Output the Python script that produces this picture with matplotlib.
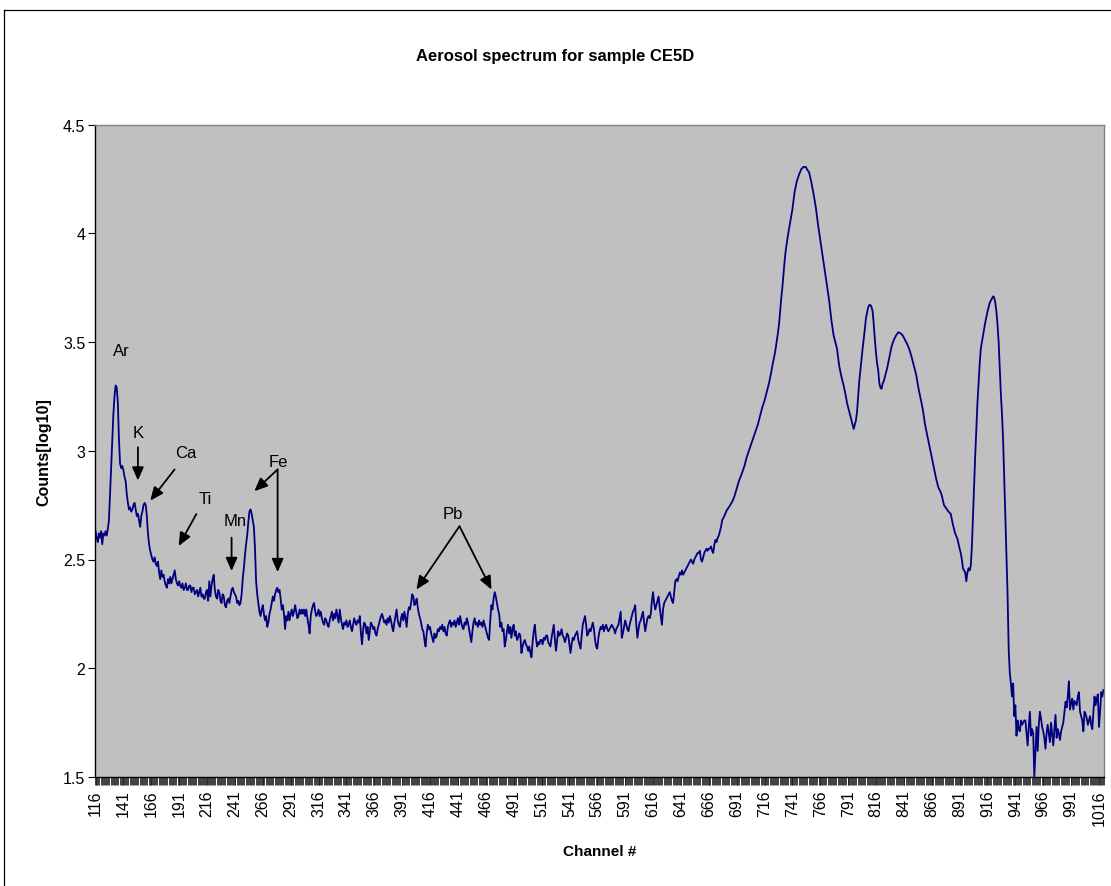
import numpy as np
import matplotlib
matplotlib.use("Agg")
import matplotlib.pyplot as plt
from matplotlib.lines import Line2D
from matplotlib.ticker import FixedLocator, NullFormatter

plt.rcParams['font.family'] = ['Liberation Sans', 'DejaVu Sans']

# ---------------- data ----------------
# channels 116..675, one value per channel (log10 counts)
low_counts = [
    2.63, 2.60, 2.58, 2.62, 2.60, 2.63, 2.57, 2.62, 2.61, 2.63,  # 116
    2.61, 2.64, 2.68, 2.80, 2.93, 3.05, 3.17, 3.25, 3.30, 3.29,  # 126
    3.22, 3.05, 2.94, 2.92, 2.93, 2.91, 2.88, 2.86, 2.80, 2.76,  # 136
    2.73, 2.74, 2.72, 2.73, 2.75, 2.76, 2.73, 2.70, 2.71, 2.68,  # 146
    2.65, 2.70, 2.72, 2.75, 2.76, 2.75, 2.70, 2.62, 2.57, 2.54,  # 156
    2.52, 2.50, 2.49, 2.51, 2.48, 2.47, 2.49, 2.44, 2.41, 2.45,  # 166
    2.42, 2.43, 2.40, 2.38, 2.37, 2.41, 2.39, 2.42, 2.39, 2.41,  # 176
    2.43, 2.45, 2.41, 2.39, 2.38, 2.40, 2.38, 2.37, 2.39, 2.36,  # 186
    2.37, 2.39, 2.36, 2.36, 2.38, 2.38, 2.35, 2.37, 2.37, 2.34,  # 196
    2.35, 2.36, 2.33, 2.35, 2.37, 2.33, 2.34, 2.32, 2.32, 2.35,  # 206
    2.36, 2.31, 2.40, 2.33, 2.38, 2.41, 2.43, 2.36, 2.33, 2.32,  # 216
    2.36, 2.35, 2.31, 2.30, 2.34, 2.33, 2.29, 2.28, 2.31, 2.32,  # 226
    2.30, 2.33, 2.36, 2.37, 2.35, 2.34, 2.33, 2.30, 2.31, 2.29,  # 236
    2.30, 2.34, 2.41, 2.46, 2.52, 2.57, 2.61, 2.67, 2.72, 2.73,  # 246
    2.71, 2.68, 2.65, 2.55, 2.40, 2.34, 2.30, 2.26, 2.24, 2.27,  # 256
    2.29, 2.25, 2.22, 2.24, 2.19, 2.21, 2.25, 2.27, 2.30, 2.33,  # 266
    2.31, 2.34, 2.36, 2.37, 2.35, 2.36, 2.32, 2.27, 2.29, 2.25,  # 276
    2.18, 2.24, 2.22, 2.26, 2.22, 2.25, 2.27, 2.24, 2.26, 2.29,  # 286
    2.26, 2.23, 2.24, 2.27, 2.25, 2.27, 2.25, 2.27, 2.24, 2.27,  # 296
    2.23, 2.20, 2.16, 2.24, 2.27, 2.29, 2.30, 2.26, 2.24, 2.25,  # 306
    2.27, 2.24, 2.26, 2.23, 2.21, 2.20, 2.23, 2.22, 2.20, 2.19,  # 316
    2.22, 2.24, 2.26, 2.22, 2.25, 2.23, 2.27, 2.24, 2.21, 2.27,  # 326
    2.23, 2.20, 2.18, 2.21, 2.20, 2.22, 2.19, 2.20, 2.22, 2.19,  # 336
    2.17, 2.20, 2.23, 2.21, 2.20, 2.22, 2.21, 2.24, 2.16, 2.11,  # 346
    2.18, 2.21, 2.20, 2.16, 2.19, 2.13, 2.17, 2.21, 2.20, 2.18,  # 356
    2.19, 2.16, 2.15, 2.18, 2.20, 2.22, 2.24, 2.25, 2.23, 2.21,  # 366
    2.22, 2.20, 2.23, 2.21, 2.24, 2.22, 2.19, 2.17, 2.21, 2.24,  # 376
    2.27, 2.22, 2.20, 2.19, 2.23, 2.25, 2.22, 2.26, 2.23, 2.19,  # 386
    2.25, 2.28, 2.27, 2.30, 2.34, 2.33, 2.29, 2.30, 2.32, 2.28,  # 396
    2.25, 2.23, 2.21, 2.18, 2.17, 2.13, 2.10, 2.16, 2.20, 2.18,  # 406
    2.19, 2.16, 2.14, 2.12, 2.16, 2.14, 2.15, 2.18, 2.17, 2.19,  # 416
    2.18, 2.20, 2.17, 2.19, 2.16, 2.15, 2.19, 2.21, 2.22, 2.19,  # 426
    2.21, 2.20, 2.22, 2.19, 2.21, 2.23, 2.20, 2.24, 2.21, 2.19,  # 436
    2.18, 2.21, 2.20, 2.23, 2.21, 2.18, 2.15, 2.12, 2.17, 2.21,  # 446
    2.23, 2.20, 2.21, 2.19, 2.22, 2.20, 2.21, 2.19, 2.22, 2.20,  # 456
    2.18, 2.16, 2.14, 2.13, 2.22, 2.29, 2.27, 2.32, 2.35, 2.33,  # 466
    2.30, 2.27, 2.25, 2.19, 2.21, 2.17, 2.18, 2.10, 2.13, 2.17,  # 476
    2.20, 2.16, 2.19, 2.14, 2.18, 2.20, 2.15, 2.17, 2.13, 2.14,  # 486
    2.16, 2.15, 2.07, 2.10, 2.12, 2.13, 2.11, 2.10, 2.08, 2.10,  # 496
    2.07, 2.05, 2.12, 2.17, 2.20, 2.14, 2.10, 2.12, 2.11, 2.13,  # 506
    2.13, 2.11, 2.14, 2.13, 2.15, 2.15, 2.12, 2.11, 2.10, 2.14,  # 516
    2.17, 2.20, 2.13, 2.08, 2.13, 2.17, 2.15, 2.16, 2.18, 2.15,  # 526
    2.14, 2.12, 2.14, 2.16, 2.15, 2.11, 2.07, 2.11, 2.14, 2.13,  # 536
    2.15, 2.16, 2.17, 2.13, 2.11, 2.09, 2.15, 2.20, 2.22, 2.24,  # 546
    2.20, 2.15, 2.16, 2.18, 2.17, 2.19, 2.21, 2.18, 2.13, 2.10,  # 556
    2.09, 2.14, 2.17, 2.19, 2.18, 2.20, 2.17, 2.19, 2.20, 2.18,  # 566
    2.17, 2.18, 2.19, 2.20, 2.19, 2.18, 2.16, 2.18, 2.19, 2.20,  # 576
    2.23, 2.26, 2.14, 2.16, 2.19, 2.22, 2.20, 2.18, 2.17, 2.20,  # 586
    2.22, 2.24, 2.26, 2.27, 2.29, 2.20, 2.14, 2.18, 2.21, 2.22,  # 596
    2.24, 2.26, 2.21, 2.17, 2.20, 2.23, 2.24, 2.23, 2.25, 2.31,  # 606
    2.35, 2.30, 2.27, 2.29, 2.31, 2.33, 2.28, 2.24, 2.20, 2.27,  # 616
    2.30, 2.31, 2.32, 2.33, 2.34, 2.35, 2.33, 2.31, 2.30, 2.35,  # 626
    2.40, 2.41, 2.40, 2.42, 2.44, 2.43, 2.45, 2.43, 2.44, 2.45,  # 636
    2.46, 2.47, 2.48, 2.49, 2.50, 2.49, 2.48, 2.50, 2.51, 2.52,  # 646
    2.53, 2.53, 2.54, 2.50, 2.49, 2.51, 2.53, 2.54, 2.55, 2.54,  # 656
    2.55, 2.55, 2.56, 2.54, 2.53, 2.57, 2.59, 2.58, 2.60, 2.61,  # 666
]
low_first_channel = 116

# smooth peak region, read at selected channels
peak_channels = [
    677, 678, 680, 682, 684, 687, 689, 691, 693, 696, 698, 700, 702, 704, 706,
    708, 710, 712, 714, 716, 718, 720, 722, 723, 725, 726, 728, 729, 731, 732,
    734, 735, 737, 738, 740, 741, 743, 745, 747, 749, 751, 753, 754, 756, 758,
    760, 762, 764, 766, 768, 770, 772, 774, 776, 778, 781, 783, 785, 787, 789,
    790, 792, 793, 795, 796, 797, 798, 799, 800, 801, 803, 804, 806, 807, 809,
    810, 811, 812, 813, 814, 815, 816, 817, 818, 819, 820, 821, 822, 823, 824,
    826, 828, 830, 832, 834, 836, 838, 840, 842, 844, 846, 848, 850, 852, 854,
    856, 858, 860, 862, 864, 866, 868, 870, 872, 874, 875, 877, 879, 881, 883,
    885, 887, 889, 891, 892, 893, 894, 895, 896, 897, 898, 899, 900, 901, 902,
    903, 904, 905, 906, 907, 908, 909, 910, 912, 914, 916, 918, 920, 921, 922,
    923, 924, 925, 926, 927, 928, 929, 930, 931, 932,
]
peak_counts = [
    2.65, 2.68, 2.70, 2.725, 2.74, 2.765, 2.79, 2.825, 2.86, 2.90, 2.93, 2.97, 3.00, 3.03, 3.06,
    3.09, 3.12, 3.16, 3.20, 3.23, 3.27, 3.31, 3.36, 3.39, 3.44, 3.47, 3.54, 3.58, 3.70, 3.75,
    3.87, 3.92, 3.99, 4.02, 4.08, 4.11, 4.19, 4.24, 4.27, 4.295, 4.305, 4.305, 4.295, 4.28, 4.235,
    4.18, 4.12, 4.04, 3.97, 3.90, 3.83, 3.76, 3.69, 3.60, 3.53, 3.47, 3.39, 3.34, 3.30, 3.25,
    3.22, 3.18, 3.16, 3.12, 3.10, 3.12, 3.14, 3.18, 3.25, 3.32, 3.42, 3.47, 3.56, 3.61, 3.66,
    3.67, 3.67, 3.66, 3.64, 3.58, 3.51, 3.45, 3.40, 3.37, 3.31, 3.29, 3.285, 3.31, 3.32, 3.34,
    3.38, 3.43, 3.48, 3.51, 3.53, 3.545, 3.54, 3.53, 3.51, 3.49, 3.465, 3.43, 3.39, 3.35, 3.29,
    3.24, 3.19, 3.12, 3.07, 3.02, 2.97, 2.92, 2.87, 2.83, 2.81, 2.795, 2.75, 2.735, 2.72, 2.71,
    2.66, 2.62, 2.595, 2.55, 2.53, 2.50, 2.46, 2.45, 2.44, 2.40, 2.44, 2.46, 2.45, 2.47, 2.56,
    2.70, 2.83, 2.98, 3.10, 3.22, 3.31, 3.40, 3.47, 3.53, 3.59, 3.64, 3.68, 3.70, 3.71, 3.705,
    3.68, 3.64, 3.58, 3.50, 3.38, 3.26, 3.17, 3.05, 2.88, 2.70,
]

# channels 933..1020, one value per channel
tail_counts = [
    2.52, 2.34, 2.09, 1.98, 1.93, 1.87, 1.93, 1.78, 1.83, 1.69,  # 933
    1.76, 1.72, 1.71, 1.76, 1.74, 1.75, 1.76, 1.76, 1.70, 1.645,  # 943
    1.73, 1.80, 1.69, 1.72, 1.70, 1.50, 1.62, 1.73, 1.62, 1.74,  # 953
    1.80, 1.77, 1.73, 1.71, 1.68, 1.63, 1.70, 1.74, 1.70, 1.66,  # 963
    1.75, 1.70, 1.645, 1.72, 1.785, 1.68, 1.72, 1.70, 1.67, 1.71,  # 973
    1.73, 1.75, 1.80, 1.846, 1.82, 1.87, 1.94, 1.81, 1.84, 1.86,  # 983
    1.81, 1.85, 1.84, 1.83, 1.87, 1.89, 1.80, 1.78, 1.76, 1.71,  # 993
    1.80, 1.79, 1.77, 1.74, 1.76, 1.78, 1.74, 1.72, 1.80, 1.87,  # 1003
    1.83, 1.86, 1.88, 1.73, 1.80, 1.89, 1.87, 1.90,              # 1013
]
tail_first_channel = 933

tick_labels = [str(c) for c in range(116, 1017, 25)]
y_ticks = [1.5, 2, 2.5, 3, 3.5, 4, 4.5]

# annotations: (label, text pos, arrow start, [arrow ends])
annotations = [
    ("Ar", (139.1, 3.46), None, []),
    ("K", (154.6, 3.082), (154.0, 3.016), [(154.0, 2.863)]),
    ("Ca", (197.1, 2.99), (186.9, 2.914), [(165.1, 2.771)]),
    ("Ti", (214.4, 2.779), (206.4, 2.709), [(190.5, 2.562)]),
    ("Mn", (241.4, 2.678), (238.0, 2.600), [(238.0, 2.447)]),
    ("Fe", (280.2, 2.950), (279.3, 2.914), [(258.4, 2.814), (279.3, 2.442)]),
    ("Pb", (436.7, 2.710), (442.4, 2.653), [(403.8, 2.362), (471.1, 2.362)]),
]

# ---------------- assemble ----------------
low_ch = np.arange(low_first_channel, low_first_channel + len(low_counts))
tail_ch = np.arange(tail_first_channel, tail_first_channel + len(tail_counts))
x = np.concatenate([low_ch, np.array(peak_channels), tail_ch])
y = np.concatenate([np.array(low_counts), np.array(peak_counts), np.array(tail_counts)])

W, H = 1111, 887
fig = plt.figure(figsize=(W / 100, H / 100), dpi=100)
fig.patch.set_facecolor('white')

L, R, T, B = 95, 1104, 125.5, 778
ax = fig.add_axes([L / W, 1 - B / H, (R - L) / W, (B - T) / H])
ax.set_facecolor('#C0C0C0')

ax.plot(x, y, color='#000080', lw=1.3, solid_joinstyle='round')

ax.set_xlim(115.5, 1020.5)
ax.set_ylim(1.5, 4.5)

ax.set_xticks(list(range(116, 1017, 25)))
ax.set_xticklabels(tick_labels, rotation=90, fontsize=11.5)
ax.xaxis.set_minor_locator(FixedLocator(np.arange(115.5, 1021, 1.0)))
ax.xaxis.set_minor_formatter(NullFormatter())
ax.tick_params(axis='x', which='major', length=6, width=0.6, pad=3, color='black')
ax.tick_params(axis='x', which='minor', length=6, width=0.6, color='#202020')

ax.set_yticks(y_ticks)
ax.set_yticklabels(['%g' % v for v in y_ticks], fontsize=11.5)
ax.tick_params(axis='y', which='major', length=5, width=0.8, pad=2)

for s in ['top', 'right']:
    ax.spines[s].set_color('#808080')
    ax.spines[s].set_linewidth(1.0)
for s in ['left', 'bottom']:
    ax.spines[s].set_color('black')
    ax.spines[s].set_linewidth(1.0)

ax.set_xlabel('Channel #', fontsize=11, fontweight='bold', labelpad=14)
ax.set_ylabel('Counts[log10]', fontsize=11.5, fontweight='bold', labelpad=8)
fig.text(0.5, 1 - 57 / H, 'Aerosol spectrum for sample CE5D', ha='center', va='center',
         fontsize=12, fontweight='bold')

for label, tpos, start, ends in annotations:
    ax.text(tpos[0], tpos[1], label, ha='center', va='center', fontsize=12)
    for e in ends:
        ax.annotate('', xy=e, xytext=start,
                    arrowprops=dict(arrowstyle='-|>,head_length=0.8,head_width=0.35',
                                    lw=1.3, color='black', shrinkA=0, shrinkB=0,
                                    mutation_scale=10))

# chart-area border (left and top visible)
fig.add_artist(Line2D([3.5 / W, 3.5 / W], [0, 1 - 10.5 / H], color='black', lw=0.9,
                      transform=fig.transFigure))
fig.add_artist(Line2D([3.5 / W, 1], [1 - 10.5 / H, 1 - 10.5 / H], color='black', lw=0.9,
                      transform=fig.transFigure))

fig.savefig('out.png', dpi=100)
